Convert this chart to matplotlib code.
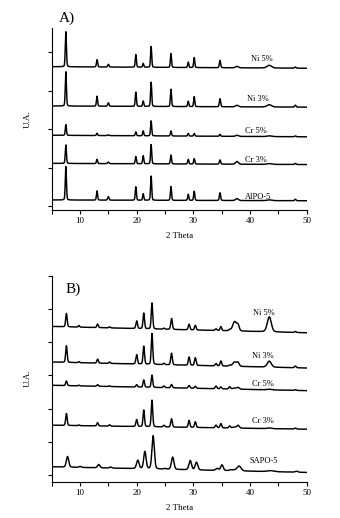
import numpy as np
import matplotlib
matplotlib.use("Agg")
import matplotlib.pyplot as plt

# ---------------- data ----------------
# Panel A: peak positions (2 theta) shared by the AlPO-5 based samples
peaks_A = [7.5, 13.0, 15.0, 19.85, 21.15, 22.55, 26.05, 29.1, 30.15, 34.7, 37.7, 43.4, 48.0]
labels_A = ["Ni 5%", "Ni 3%", "Cr 5%", "Cr 3%", "AlPO-5"]
base_left_A = [3.62, 2.60, 1.84, 1.11, 0.16]
base_right_A = [3.58, 2.57, 1.80, 1.08, 0.14]
heights_A = [
    [0.91, 0.19, 0.07, 0.33, 0.10, 0.54, 0.36, 0.14, 0.26, 0.19, 0.04, 0.07, 0.03],
    [0.89, 0.26, 0.09, 0.37, 0.14, 0.63, 0.45, 0.14, 0.26, 0.21, 0.04, 0.06, 0.05],
    [0.28, 0.06, 0.02, 0.10, 0.13, 0.39, 0.13, 0.07, 0.07, 0.05, 0.03, 0.02, 0.02],
    [0.48, 0.11, 0.04, 0.19, 0.21, 0.50, 0.23, 0.12, 0.14, 0.11, 0.07, 0.02, 0.03],
    [0.87, 0.24, 0.09, 0.35, 0.17, 0.63, 0.36, 0.16, 0.24, 0.20, 0.05, 0.02, 0.04],
]
widths_A = [0.10, 0.10, 0.12, 0.10, 0.10, 0.10, 0.10, 0.10, 0.10, 0.11, 0.25, 0.40, 0.12]
label_x_A = [42.0, 41.3, 41.0, 41.1, 41.5]
label_y_A = [3.82, 2.77, 1.95, 1.21, 0.24]

# Panel B: peak positions for SAPO-5 based samples
peaks_B = [7.6, 9.8, 13.1, 15.2, 20.0, 21.25, 22.7, 24.8, 26.15, 29.25, 30.35, 34.0, 34.85,
           36.4, 37.3, 37.9, 43.4, 48.0]
labels_B = ["Ni 5%", "Ni 3%", "Cr 5%", "Cr 3%", "SAPO-5"]
base_left_B = [4.47, 3.40, 2.70, 1.50, 0.25]
base_right_B = [4.28, 3.22, 2.54, 1.38, 0.08]
heights_B = [
    [0.40, 0.05, 0.11, 0.03, 0.23, 0.47, 0.78, 0.03, 0.33, 0.17, 0.14, 0.05, 0.12, 0.03, 0.28, 0.15, 0.45, 0.03],
    [0.50, 0.03, 0.12, 0.04, 0.28, 0.54, 0.93, 0.04, 0.35, 0.25, 0.23, 0.07, 0.15, 0.03, 0.13, 0.10, 0.18, 0.05],
    [0.14, 0.02, 0.05, 0.02, 0.07, 0.22, 0.37, 0.05, 0.10, 0.08, 0.06, 0.08, 0.06, 0.07, 0.03, 0.05, 0.02, 0.02],
    [0.36, 0.02, 0.10, 0.04, 0.21, 0.50, 0.80, 0.05, 0.25, 0.21, 0.17, 0.08, 0.13, 0.06, 0.03, 0.08, 0.02, 0.03],
    [0.32, 0.03, 0.10, 0.03, 0.25, 0.52, 1.00, 0.02, 0.37, 0.28, 0.23, 0.06, 0.17, 0.02, 0.03, 0.13, 0.03, 0.03],
]
shift_B = [0.0, 0.0, 0.0, 0.0, 0.2]
widths_B = [0.13, 0.12, 0.13, 0.13, 0.14, 0.13, 0.13, 0.15, 0.14, 0.14, 0.14, 0.15, 0.14,
            0.15, 0.35, 0.20, 0.35, 0.15]
label_x_B = [42.5, 42.2, 42.2, 42.2, 42.4]
label_y_B = [4.88, 3.57, 2.75, 1.63, 0.41]

xticks = [10, 20, 30, 40, 50]

# ---------------- drawing ----------------
plt.rcParams['font.family'] = ['Liberation Serif', 'DejaVu Serif']

fig = plt.figure(figsize=(3.40, 5.18), dpi=100)
axA = fig.add_axes([0.152, 0.5946, 0.75, 0.351])
axB = fig.add_axes([0.152, 0.070, 0.75, 0.398])

x = np.linspace(5, 50, 4000)


def profile(pos, h, w):
    g = np.exp(-0.5 * ((x - pos) / w) ** 2)
    l = 1.0 / (1.0 + ((x - pos) / (w * 1.2)) ** 2)
    return h * (0.8 * g + 0.2 * l)


def draw(ax, peaks, heights, widths, bl, br, labels, lx, ly, shifts, ylim, nticks, tag, tagpos):
    for i in range(len(labels)):
        y = bl[i] + (br[i] - bl[i]) * (x - 5) / 45.0
        for p, h, w in zip(peaks, heights[i], widths):
            ww = w * (1.6 if shifts[i] > 0 else 1.0)
            y = y + profile(p + shifts[i], h, ww)
        ax.plot(x, y, color='black', lw=1.05)
        ax.text(lx[i], ly[i], labels[i], fontsize=6, ha='center', va='center')
    ax.set_xlim(5, 50)
    ax.set_ylim(*ylim)
    ax.set_xticks(xticks)
    ax.set_xticks(np.arange(5, 51, 5), minor=True)
    ax.set_yticks(np.arange(0, nticks + 1))
    ax.set_yticklabels([])
    ax.tick_params(axis='both', which='both', direction='out', length=3, width=0.8)
    ax.tick_params(axis='x', labelsize=6.5, pad=2)
    for s in ['top', 'right']:
        ax.spines[s].set_visible(False)
    for s in ['left', 'bottom']:
        ax.spines[s].set_linewidth(0.8)
    ax.set_xlabel('2 Theta', fontsize=6.5, labelpad=5)
    ax.set_ylabel('U.A.', fontsize=6.5, labelpad=8)
    ax.text(tagpos[0], tagpos[1], tag, fontsize=11, ha='left', va='center',
            transform=ax.transAxes, clip_on=False)


draw(axA, peaks_A, heights_A, widths_A, base_left_A, base_right_A, labels_A,
     label_x_A, label_y_A, [0.0] * 5, (-0.1, 4.62), 4, 'A)', (0.03, 1.055))
draw(axB, peaks_B, heights_B, widths_B, base_left_B, base_right_B, labels_B,
     label_x_B, label_y_B, shift_B, (-0.2, 6.0), 6, 'B)', (0.055, 0.935))

fig.savefig('out.png', dpi=100)
